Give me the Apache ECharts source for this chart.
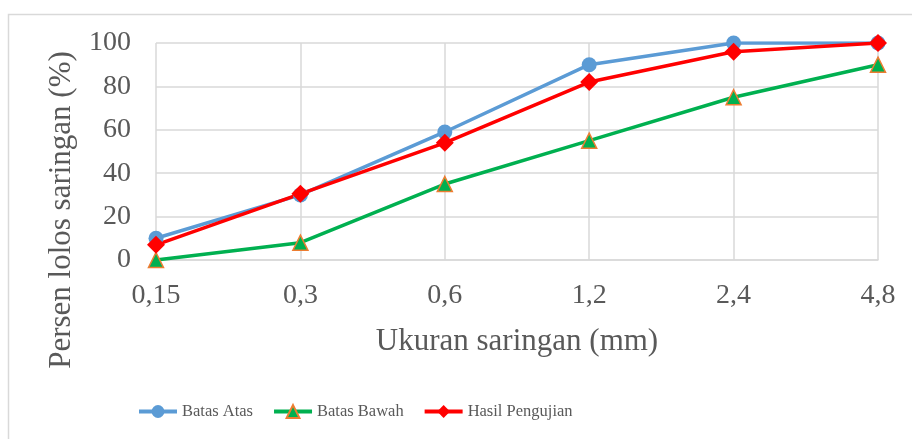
<!DOCTYPE html>
<html>
<head>
<meta charset="utf-8">
<style>
  html, body { margin: 0; padding: 0; background: #ffffff; }
  #chart { width: 912px; height: 439px; }
</style>
<script src="https://cdn.jsdelivr.net/npm/echarts@6/dist/echarts.min.js"></script>
</head>
<body>
<div id="chart"></div>
<script>
// Sieve sizes (mm) and passing percentages
const sieveSizes = ['0,15', '0,3', '0,6', '1,2', '2,4', '4,8'];
const batasAtas = [10, 30, 59, 90, 100, 100];
const batasBawah = [0, 8, 35, 55, 75, 90];
const hasilPengujian = [7, 30.5, 54, 82, 96, 100];

const textColor = '#595959';
const gridColor = '#d9d9d9';
const serif = '"Liberation Serif", "Times New Roman", serif';

const chart = echarts.init(document.getElementById('chart'), null, { renderer: 'canvas' });

chart.setOption({
  animation: false,
  backgroundColor: '#ffffff',
  textStyle: { fontFamily: serif, color: textColor },
  graphic: [
    {
      type: 'rect',
      shape: { x: 8.5, y: 14.5, width: 1000, height: 1000 },
      style: { fill: 'none', stroke: gridColor, lineWidth: 1.5 },
      silent: true
    },
    {
      type: 'text',
      x: 62,
      y: 210,
      rotation: Math.PI / 2,
      style: {
        text: 'Persen lolos saringan (%)',
        fontFamily: serif,
        fontSize: 31,
        fill: textColor,
        align: 'center',
        verticalAlign: 'middle'
      },
      silent: true
    }
  ],
  grid: { left: 156, right: 34, top: 43, bottom: 179 },
  legend: {
    left: 132,
    top: 398,
    itemWidth: 38,
    itemHeight: 16,
    itemGap: 19,
    lineStyle: { width: 4 },
    textStyle: { fontFamily: serif, fontSize: 16.5, color: textColor },
    data: ['Batas Atas', 'Batas Bawah', 'Hasil Pengujian']
  },
  xAxis: {
    type: 'category',
    data: sieveSizes,
    boundaryGap: false,
    name: 'Ukuran saringan (mm)',
    nameLocation: 'middle',
    nameGap: 66,
    nameTextStyle: { fontFamily: serif, fontSize: 31, color: textColor },
    axisLine: { show: true, lineStyle: { color: gridColor, width: 1.5 } },
    axisTick: { show: false },
    axisLabel: { fontFamily: serif, fontSize: 28, color: textColor, margin: 22 },
    splitLine: { show: true, lineStyle: { color: gridColor, width: 1.5 } }
  },
  yAxis: {
    type: 'value',
    min: 0,
    max: 100,
    interval: 20,
    axisLine: { show: false },
    axisTick: { show: false },
    axisLabel: { fontFamily: serif, fontSize: 28, color: textColor, margin: 25 },
    splitLine: { show: true, lineStyle: { color: gridColor, width: 1.5 } }
  },
  series: [
    {
      name: 'Batas Atas',
      type: 'line',
      data: batasAtas,
      symbol: 'circle',
      symbolSize: 15,
      lineStyle: { color: '#5B9BD5', width: 3.5 },
      itemStyle: { color: '#5B9BD5' }
    },
    {
      name: 'Batas Bawah',
      type: 'line',
      data: batasBawah,
      symbol: 'triangle',
      symbolSize: 15,
      lineStyle: { color: '#00B050', width: 3.5 },
      itemStyle: { color: '#00B050', borderColor: '#ED7D31', borderWidth: 1.5 }
    },
    {
      name: 'Hasil Pengujian',
      type: 'line',
      data: hasilPengujian,
      symbol: 'diamond',
      symbolSize: 18,
      lineStyle: { color: '#FF0000', width: 3.5 },
      itemStyle: { color: '#FF0000' }
    }
  ]
});
</script>
</body>
</html>
